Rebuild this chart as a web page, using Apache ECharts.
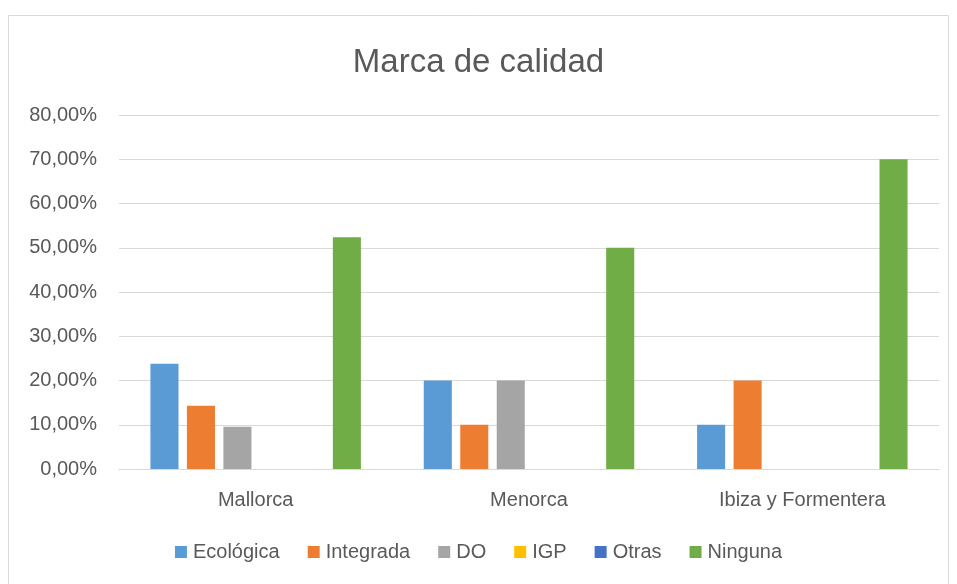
<!DOCTYPE html>
<html>
<head>
    <meta charset="utf-8">
    <script src="https://cdn.jsdelivr.net/npm/echarts@6/dist/echarts.min.js"></script>
    <style>
        html, body { margin: 0; padding: 0; background: #fff; }
        #main { width: 957px; height: 584px; }
    </style>
</head>
<body>
<div id="main"></div>
<script type="text/javascript">
    // categories and series (percent values)
    var categories = ['Mallorca', 'Menorca', 'Ibiza y Formentera'];
    var seriesNames = ['Ecológica', 'Integrada', 'DO', 'IGP', 'Otras', 'Ninguna'];
    var ecologica = [23.81, 20, 10];
    var integrada = [14.29, 10, 20];
    var denominacion = [9.52, 20, 0];
    var igp = [0, 0, 0];
    var otras = [0, 0, 0];
    var ninguna = [52.38, 50, 70];
    var yTicks = [0, 10, 20, 30, 40, 50, 60, 70, 80];

    var colors = ['#5B9BD5', '#ED7D31', '#A5A5A5', '#FFC000', '#4472C4', '#70AD47'];
    var allData = [ecologica, integrada, denominacion, igp, otras, ninguna];
    var font = 'Liberation Sans';

    var myChart = echarts.init(document.getElementById('main'));

    var series = [];
    for (var i = 0; i < seriesNames.length; i++) {
        series.push({
            name: seriesNames[i],
            type: 'bar',
            barGap: '30%',
            barCategoryGap: '23%',
            itemStyle: { color: colors[i] },
            data: allData[i]
        });
    }

    var option = {
        animation: false,
        color: colors,
        textStyle: { fontFamily: font },
        graphic: [{
            type: 'rect',
            shape: { x: 8.5, y: 15.5, width: 940, height: 580 },
            style: { fill: null, stroke: '#d9d9d9', lineWidth: 1 },
            silent: true
        }],
        title: {
            text: 'Marca de calidad',
            left: 'center',
            top: 41,
            textStyle: { fontSize: 33, fontWeight: 'normal', color: '#595959', fontFamily: font }
        },
        grid: { left: 119, right: 18, top: 115, bottom: 115 },
        legend: {
            bottom: 17,
            left: 'center',
            itemWidth: 12,
            itemHeight: 12,
            itemGap: 28,
            icon: 'rect',
            textStyle: { fontSize: 20, color: '#595959', fontFamily: font, padding: [0, 0, 0, 1] }
        },
        xAxis: {
            type: 'category',
            data: categories,
            axisTick: { show: false },
            axisLine: { lineStyle: { color: '#d9d9d9', width: 1 } },
            axisLabel: { fontSize: 20, color: '#595959', margin: 21 }
        },
        yAxis: {
            type: 'value',
            min: yTicks[0],
            max: yTicks[yTicks.length - 1],
            interval: 10,
            axisLine: { show: false },
            axisTick: { show: false },
            splitLine: { lineStyle: { color: '#d9d9d9', width: 1 } },
            axisLabel: {
                fontSize: 20,
                color: '#595959',
                margin: 22,
                formatter: function (v) { return v.toFixed(2).replace('.', ',') + '%'; }
            }
        },
        series: series
    };

    myChart.setOption(option);
</script>
</body>
</html>
